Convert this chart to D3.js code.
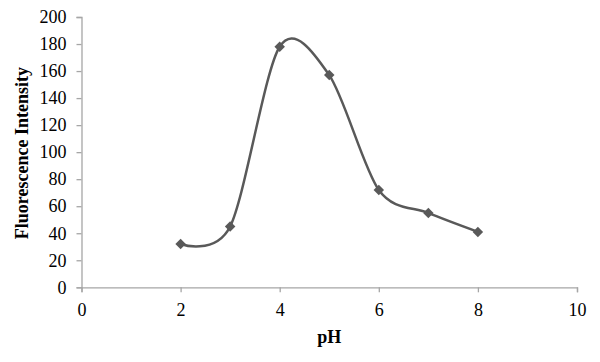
<!DOCTYPE html>
<html><head><meta charset="utf-8">
<script src="https://cdn.jsdelivr.net/npm/d3@7"></script>
<style>body{margin:0;background:#fff}svg{display:block}</style>
</head><body>
<svg id="c" width="600" height="362"></svg>
<script>
const phValues = [2, 3, 4, 5, 6, 7, 8];
const intensity = [32, 45, 178, 157, 72, 55, 41];
const xTicks = [0, 2, 4, 6, 8, 10];
const yTicks = [0, 20, 40, 60, 80, 100, 120, 140, 160, 180, 200];

const svg = d3.select("#c");
const W = 600, H = 362;
const x = d3.scaleLinear().domain([0, 10]).range([81.5, 577]);
const y = d3.scaleLinear().domain([0, 200]).range([287.3, 17]);
const axisColor = "#a6a6a6";
const font = "'Liberation Serif','Times New Roman',serif";

const gx = svg.append("g").attr("transform", `translate(0,${y(0)})`)
  .call(d3.axisBottom(x).tickValues(xTicks).tickSize(5).tickPadding(11));
const gy = svg.append("g").attr("transform", `translate(${x(0)},0)`)
  .call(d3.axisLeft(y).tickValues(yTicks).tickSize(5).tickPadding(10));
[gx, gy].forEach(g => {
  g.selectAll("path,line").attr("stroke", axisColor).attr("stroke-width", 1.3);
  g.selectAll("text").attr("fill", "#000").style("font-family", font).style("font-size", "18px");
});

const data = phValues.map((p, i) => ({p, v: intensity[i]}));
const line = d3.line().x(d => x(d.p)).y(d => y(d.v)).curve(d3.curveCardinal.tension(0.1));
svg.append("path").datum(data).attr("d", line)
  .attr("fill", "none").attr("stroke", "#595959").attr("stroke-width", 2.5);

svg.selectAll(".pt").data(data).enter().append("path")
  .attr("transform", d => `translate(${x(d.p)},${y(d.v)})`)
  .attr("d", d3.symbol().type(d3.symbolDiamond2).size(70))
  .attr("fill", "#595959");

svg.append("text").attr("x", (x(0) + x(10)) / 2).attr("y", 343)
  .attr("text-anchor", "middle").style("font-family", font).style("font-size", "18px")
  .style("font-weight", "bold").text("pH");
svg.append("text").attr("transform", `translate(28,${(y(0) + y(200)) / 2 + 1}) rotate(-90)`)
  .attr("text-anchor", "middle").style("font-family", font).style("font-size", "18px")
  .style("font-weight", "bold").text("Fluorescence Intensity");
</script>
</body></html>
